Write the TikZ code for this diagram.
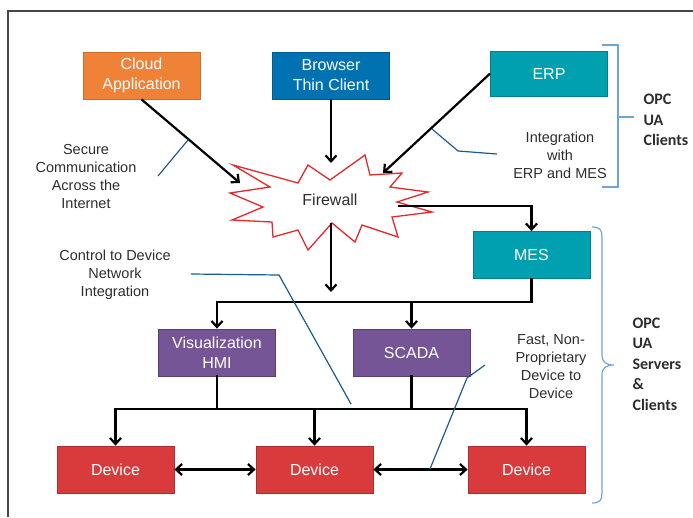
\documentclass[tikz,border=0pt]{standalone}
\usepackage{fontspec}
\setmainfont{Liberation Sans}
\newfontfamily\opcfont{Carlito}
\usetikzlibrary{arrows.meta}
\definecolor{cloudorange}{RGB}{240,130,56}
\definecolor{browserblue}{RGB}{0,114,178}
\definecolor{opcteal}{RGB}{0,160,176}
\definecolor{hmipurple}{RGB}{117,85,150}
\definecolor{devicered}{RGB}{217,58,60}
\definecolor{firered}{RGB}{228,40,44}
\definecolor{notegray}{RGB}{45,45,45}
\definecolor{calloutblue}{RGB}{28,92,140}
\definecolor{bracketblue}{RGB}{110,165,215}
\definecolor{framegray}{RGB}{70,70,70}

\begin{document}
\begin{tikzpicture}[x=1pt,y=-1pt,
    box/.style={minimum width=117pt,minimum height=47pt,inner sep=2pt,align=center,
        text=white,font=\fontsize{16}{20}\selectfont,line width=0.8pt},
    wire/.style={line width=2.2pt,line cap=rect},
    link/.style={line width=2.2pt,-{Straight Barb[length=6pt,width=11pt]}},
    both/.style={line width=2.2pt,{Straight Barb[length=6pt,width=11pt]}-{Straight Barb[length=6pt,width=11pt]}},
    note/.style={align=center,text=notegray,font=\fontsize{14.5}{18}\selectfont},
    callout/.style={draw=calloutblue,line width=1.2pt},
    bracket/.style={draw=bracketblue,line width=1.2pt},
    opc/.style={align=left,anchor=west,text=notegray,font=\opcfont\bfseries\fontsize{16}{20.5}\selectfont}]
    \useasboundingbox (0,0) rectangle (693,517);
    \draw[framegray,line width=1.5pt] (8,517) -- (8,11) -- (693,11);

    %OPC UA clients
    \node[box,fill=cloudorange,draw=cloudorange!85!black] (cloud) at (141.5,75.5) {Cloud\\Application};
    \node[box,fill=browserblue,draw=browserblue!80!black] (browser) at (331,75.5) {Browser\\Thin Client};
    \node[box,fill=opcteal,draw=opcteal!80!black,minimum height=45pt] (erp) at (549,73.5) {ERP};

    %Firewall burst
    \draw[firered,line width=1.3pt,fill=white] (233,165) -- (298,183) -- (308,165) -- (330,180)
        -- (365,155) -- (370,175) -- (402,173) -- (390,187) -- (428,192) -- (397,202)
        -- (432,212) -- (392,217) -- (398,237) -- (362,225) -- (355,242) -- (332,223)
        -- (308,250) -- (298,230) -- (273,237) -- (272,222) -- (232,220) -- (263,207)
        -- (230,193) -- (270,187) -- cycle;
    \node[note,font=\fontsize{16}{19}\selectfont] (firewall) at (330,200) {Firewall};
    \coordinate (fw-cloud) at (240,183);
    \coordinate (fw-browser) at (331,163);
    \coordinate (fw-erp) at (383,173);
    \coordinate (fw-right) at (398,206);
    \coordinate (fw-bottom) at (331,223);
    \coordinate (fw-drop) at (331,292);

    %OPC UA servers and clients
    \node[box,fill=opcteal,draw=opcteal!80!black] (mes) at (531.5,255) {MES};
    \node[box,fill=hmipurple,draw=hmipurple!75!black] (hmi) at (217,352.5) {Visualization\\HMI};
    \node[box,fill=hmipurple,draw=hmipurple!75!black] (scada) at (411.5,352.5) {SCADA};
    \node[box,fill=devicered,draw=devicered!80!black] (dev1) at (115.5,469.5) {Device};
    \node[box,fill=devicered,draw=devicered!80!black] (dev2) at (314.5,469.5) {Device};
    \node[box,fill=devicered,draw=devicered!80!black] (dev3) at (526.5,469.5) {Device};
    \coordinate (ctrl-bus) at (0,302);
    \coordinate (dev-bus) at (0,409);

    \draw[link] (cloud.south) -- (fw-cloud);
    \draw[link] (browser.south) -- (fw-browser);
    \draw[link] (erp.west) -- (fw-erp);
    \draw[link] (fw-right) -| (mes.north);
    \draw[link] (fw-bottom) -- (fw-drop);
    \draw[wire] (mes.south) |- (hmi.north |- ctrl-bus);
    \draw[link] (hmi.north |- ctrl-bus) -- (hmi.north);
    \draw[link] (scada.north |- ctrl-bus) -- (scada.north);
    \draw[wire] (hmi.south) -- (hmi.south |- dev-bus);
    \draw[wire] (scada.south) -- (scada.south |- dev-bus);
    \draw[wire] (dev1.north |- dev-bus) -- (dev3.north |- dev-bus);
    \draw[link] (dev1.north |- dev-bus) -- (dev1.north);
    \draw[link] (dev2.north |- dev-bus) -- (dev2.north);
    \draw[link] (dev3.north |- dev-bus) -- (dev3.north);
    \draw[both] (dev1) -- (dev2);
    \draw[both] (dev2) -- (dev3);

    %notes and callouts
    \node[note] (secure) at (86,177) {Secure\\Communication\\Across the\\Internet};
    \node[note] (integration) at (560,155) {Integration\\with\\ERP and MES};
    \node[note] (control) at (115,275) {Control to Device\\Network\\Integration};
    \node[note] (fast) at (551,367) {Fast, Non-\\Proprietary\\Device to\\Device};
    \coordinate (secure-end) at (158,176);
    \coordinate (secure-tip) at (188,140);
    \coordinate (integration-end) at (497,154);
    \coordinate (integration-tip) at (432,129);
    \coordinate (control-end) at (191,274);
    \coordinate (control-tip) at (351,404);
    \coordinate (fast-end) at (485,365);
    \coordinate (fast-tip) at (430,469);
    \draw[callout] (secure-end) -- (secure-tip);
    \draw[callout] (integration-end) -- (458,151) -- (integration-tip);
    \draw[callout] (control-end) -- (279,275) -- (control-tip);
    \draw[callout] (fast-end) -- (467,378) -- (fast-tip);

    %brackets
    \draw[bracket] (602,45) -- (618,45) -- (618,187) -- (602,187);
    \draw[bracket] (618,117) -- (634,117);
    \draw[bracket] (592,227) .. controls (600,227) and (602,230) .. (602,237) -- (602,355)
        .. controls (602,362) and (606,365) .. (614,365) .. controls (606,365) and (602,368) .. (602,375)
        -- (602,493) .. controls (602,500) and (600,503) .. (592,503);
    \node[opc] (clients) at (640,120) {OPC\\UA\\Clients};
    \node[opc] (servers) at (629,364) {OPC\\UA\\Servers\\\&\\Clients};
\end{tikzpicture}
\end{document}
